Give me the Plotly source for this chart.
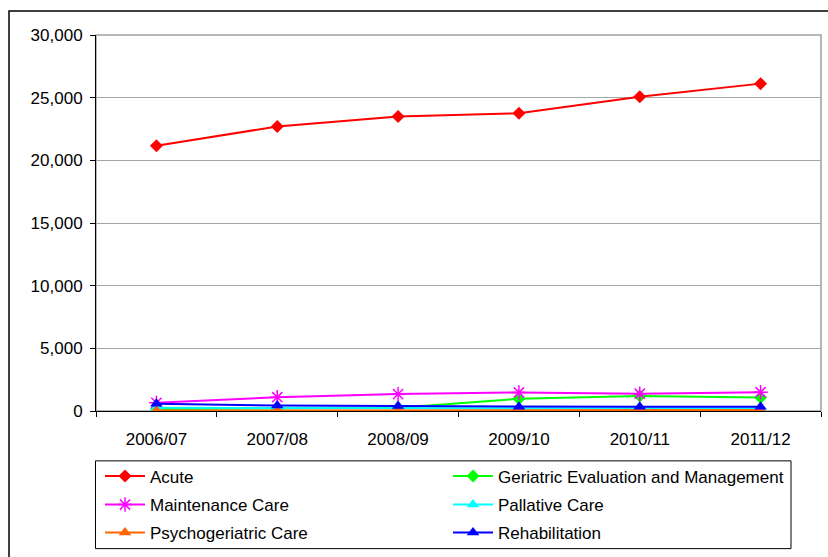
import plotly.graph_objects as go

years = ["2006/07", "2007/08", "2008/09", "2009/10", "2010/11", "2011/12"]
acute = [21170, 22700, 23500, 23750, 25080, 26120]
gem = [150, 180, 250, 980, 1200, 1080]
maintenance = [650, 1100, 1350, 1480, 1380, 1500]
pallative = [260, 240, 240, 210, 200, 190]
psychogeriatric = [30, 50, 50, 70, 70, 70]
rehabilitation = [580, 430, 390, 340, 340, 330]

FONT = "Liberation Sans, Arial, sans-serif"
W, H = 828, 557
L, R, T, B = 96, 7, 35, 145
PW, PH = W - L - R, H - T - B

def px(x):
    return (x - L) / PW

def py(y):
    return (H - B - y) / PH

series = [
    ("Acute", acute, "#ff0000", "diamond", 10, "legend"),
    ("Geriatric Evaluation and Management", gem, "#00ff00", "diamond", 10, "legend"),
    ("Maintenance Care", maintenance, "#ff00ff", "asterisk-open", 12, "legend2"),
    ("Pallative Care", pallative, "#00ffff", "triangle-up", 11, "legend2"),
    ("Psychogeriatric Care", psychogeriatric, "#ff6600", "triangle-up", 11, "legend3"),
    ("Rehabilitation", rehabilitation, "#0000ff", "triangle-up", 11, "legend3"),
]

fig = go.Figure()
for name, vals, color, sym, size, leg in series:
    fig.add_trace(go.Scatter(
        x=years, y=vals, name=name, mode="lines+markers",
        line=dict(color=color, width=2),
        marker=dict(symbol=sym, size=size, color=color,
                    line=dict(color=color, width=1.5 if "asterisk" in sym else 0)),
        legend=leg,
    ))

legend_common = dict(
    orientation="h", xanchor="left", yanchor="middle",
    font=dict(family=FONT, size=17, color="#000000"),
    bgcolor="rgba(0,0,0,0)", borderwidth=0,
    itemwidth=40, entrywidth=293, entrywidthmode="pixels",
    traceorder="normal", itemclick=False,
)
lx = px(100)

fig.update_layout(
    width=W, height=H,
    margin=dict(l=L, r=R, t=T, b=B, pad=0),
    paper_bgcolor="#ffffff", plot_bgcolor="#ffffff",
    font=dict(family=FONT, size=17, color="#000000"),
    showlegend=True,
    legend=dict(x=lx, y=py(476.5), **legend_common),
    legend2=dict(x=lx, y=py(505), **legend_common),
    legend3=dict(x=lx, y=py(533), **legend_common),
    xaxis=dict(
        type="category", range=[-0.5, 5.5], showgrid=False, showline=True,
        linecolor="#000000", linewidth=1, ticks="outside", ticklen=5,
        tickcolor="#000000", tickson="boundaries",
        tickfont=dict(family=FONT, size=17),
        ticklabelstandoff=13, zeroline=False, fixedrange=True,
    ),
    yaxis=dict(
        range=[0, 30000], tickvals=[0, 5000, 10000, 15000, 20000, 25000, 30000],
        tickformat=",d", showgrid=True, gridcolor="#a6a6a6", gridwidth=1,
        showline=True, linecolor="#000000", linewidth=1, ticks="outside",
        ticklen=5, tickcolor="#000000", tickfont=dict(family=FONT, size=17),
        ticklabelstandoff=4, zeroline=False, fixedrange=True,
    ),
    shapes=[
        dict(type="rect", xref="paper", yref="paper", x0=0, x1=1, y0=0, y1=1,
             line=dict(color="#a0a0a0", width=1.5), layer="below"),
        dict(type="rect", xref="paper", yref="paper",
             x0=px(95.5), x1=px(791), y0=py(550), y1=py(462),
             line=dict(color="#000000", width=1), layer="above"),
        dict(type="rect", xref="paper", yref="paper",
             x0=px(9), x1=px(860), y0=py(600), y1=py(11),
             line=dict(color="#000000", width=1.5), layer="above"),
    ],
)

fig.write_html("out.html")
